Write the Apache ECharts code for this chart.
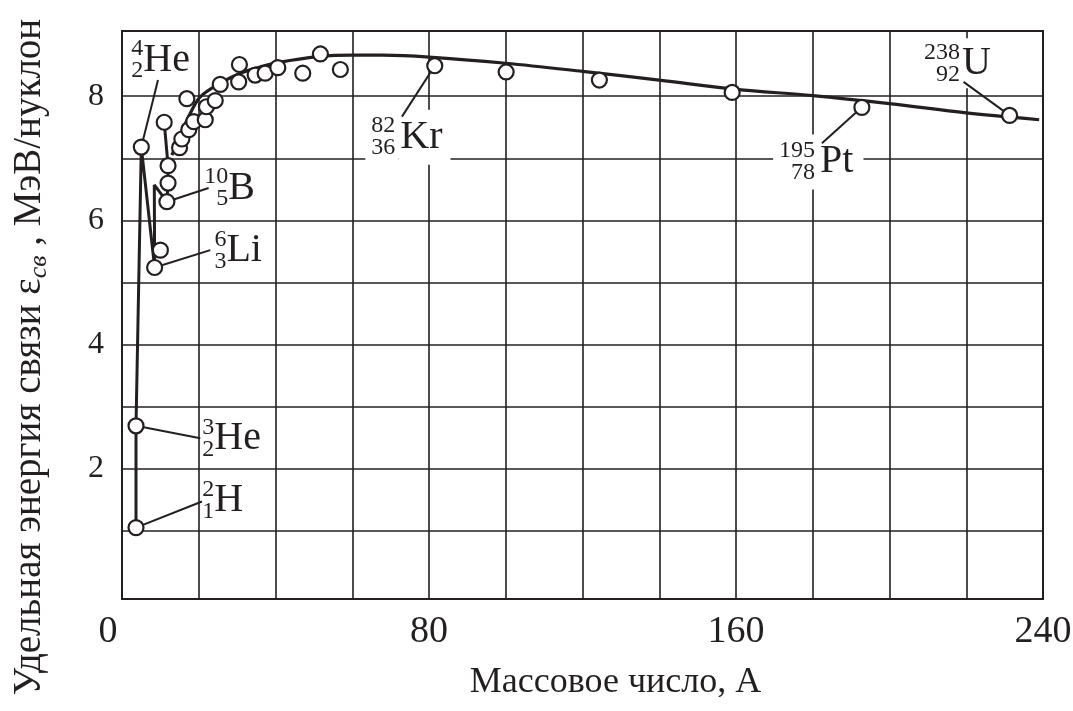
<!DOCTYPE html>
<html><head><meta charset="utf-8">
<script src="https://cdn.jsdelivr.net/npm/echarts@6/dist/echarts.min.js"></script>
<style>html,body{margin:0;padding:0;background:#fff}#c{width:1073px;height:711px}</style>
</head><body><div id="c"></div>
<script>
// ---- data ----
const xLabelValues = [0, 80, 160, 240];
const yLabelValues = [2, 4, 6, 8];
const yGridValues = [1, 2, 3, 4, 5, 6, 7, 8];

// measured nuclides (mass number A, MeV per nucleon)
const nuclideA = [3.65, 3.65, 5.03, 8.5, 10.0, 11.0, 12.0, 12.0, 11.7,
  15.0, 15.6, 17.4, 18.7, 21.7, 22.0, 24.3, 16.9, 25.6, 30.6, 30.4, 34.7, 37.3, 40.6,
  47.1, 51.7, 56.9, 81.5, 100.1, 124.4, 159.0, 192.8, 231.3];
const nuclideE = [1.05, 2.69, 7.18, 5.24, 5.52, 7.58, 6.88, 6.60, 6.30,
  7.17, 7.31, 7.46, 7.59, 7.62, 7.83, 7.93, 7.96, 8.19, 8.51, 8.23, 8.34, 8.37, 8.46,
  8.37, 8.68, 8.43, 8.49, 8.39, 8.26, 8.06, 7.82, 7.69];

// broken line through the light nuclei
const chainA = [3.65, 3.65, 5.03, 8.5, 8.42, 11.7, 12.0, 12.0, 11.0];
const chainE = [1.05, 2.69, 7.18, 5.24, 6.57, 6.30, 6.60, 6.88, 7.58];

// smooth binding-energy curve
const curveA = [13.0, 15.5, 18.0, 20.4, 25.6, 30.8, 36, 40.5, 51.6, 60, 68, 80, 100, 120, 140, 160, 180, 200, 220, 239];
const curveE = [7.05, 7.42, 7.75, 7.99, 8.21, 8.37, 8.47, 8.54, 8.64, 8.66, 8.66, 8.63, 8.53, 8.40, 8.26, 8.11, 8.01, 7.88, 7.73, 7.62];

// nuclide labels: mass number, charge, symbol, anchor (A, E)
const labelMass   = ['4', '10', '6', '3', '2', '82', '195', '238'];
const labelCharge = ['2', '5', '3', '2', '1', '36', '78', '92'];
const labelSymbol = ['He', 'B', 'Li', 'He', 'H', 'Kr', 'Pt', 'U'];
const labelAt = [[5.55, 8.58], [27.7, 6.52], [27.2, 5.51], [24.05, 2.49], [24.05, 1.48], [72.0, 7.34], [181.4, 6.94], [218.4, 8.53]];

// leader lines: from nuclide to label
const leaderFrom = [[5.03, 7.18], [11.7, 6.30], [8.5, 5.24], [3.65, 2.69], [3.65, 1.05], [81.5, 8.49], [192.8, 7.82], [231.3, 7.69]];
const leaderTo   = [[9.38, 8.26], [22.57, 6.52], [23.0, 5.52], [20.4, 2.49], [20.85, 1.47], [72.96, 7.67], [182.4, 7.24], [219.3, 8.23]];

// ---- styling ----
const INK = '#231f20';
const SERIF = '"Liberation Serif", "Times New Roman", serif';

// label boxes with white background (cut the grid)
const numPad = {5: [3, 3, 3, 6], 6: [3, 3, 8, 6]};
const symPad = {5: [5, 8, 10, 2], 6: [5, 10, 5, 2], 7: [8, 4, 2, 2]};

const labelData = [];
labelAt.forEach((p, i) => {
  const nb = numPad[i];
  labelData.push({
    value: p,
    label: {
      show: true, position: 'left', distance: 0,
      formatter: labelMass[i] + '\n' + labelCharge[i],
      fontFamily: SERIF, fontSize: 24, lineHeight: 22, color: INK, opacity: 1, align: 'right',
      backgroundColor: nb ? '#fff' : 'transparent', padding: nb || 0
    }
  });
  const sb = symPad[i];
  labelData.push({
    value: p,
    label: {
      show: true, position: 'right', distance: 0,
      formatter: labelSymbol[i],
      fontFamily: SERIF, fontSize: 40, lineHeight: 40, color: INK, opacity: 1,
      backgroundColor: sb ? '#fff' : 'transparent', padding: sb || 0
    }
  });
});

const zip = (a, b) => a.map((v, i) => [v, b[i]]);

const chart = echarts.init(document.getElementById('c'), null, {renderer: 'canvas'});
chart.setOption({
  backgroundColor: '#fff',
  animation: false,
  grid: {left: 122, right: 30, top: 31, bottom: 112, show: true, borderColor: INK, borderWidth: 2,
         backgroundColor: 'transparent', containLabel: false, outerBoundsMode: 'none'},
  xAxis: {
    type: 'value', min: 0, max: 240, interval: 20,
    axisLine: {show: false}, axisTick: {show: false},
    splitLine: {show: true, lineStyle: {color: INK, width: 1.6}},
    axisLabel: {
      margin: 14, color: INK, fontFamily: SERIF, fontSize: 38,
      formatter: v => v === 0 ? '{z|0}' : (xLabelValues.indexOf(v) >= 0 ? String(v) : ''),
      rich: {z: {fontFamily: SERIF, fontSize: 38, color: INK, padding: [0, 28, 0, 0]}}
    },
    name: 'Массовое число, А', nameLocation: 'middle', nameGap: 66,
    nameTextStyle: {fontFamily: SERIF, fontSize: 36, color: INK, padding: [0, 0, 0, 66]}
  },
  yAxis: {
    type: 'value', min: -0.1, max: 9.05,
    axisLine: {show: false},
    axisTick: {show: false, customValues: yGridValues},
    splitLine: {show: true, lineStyle: {color: INK, width: 1.6}},
    axisLabel: {customValues: yLabelValues, margin: 18, color: INK, fontFamily: SERIF, fontSize: 32},
    name: '{a|Удельная энергия связи ε}{s|св}{a| , МэВ/нуклон}',
    nameLocation: 'middle', nameGap: 70,
    nameTextStyle: {
      color: INK, padding: [0, 84, 0, 0],
      rich: {
        a: {fontFamily: SERIF, fontSize: 39, lineHeight: 44, color: INK},
        s: {fontFamily: SERIF, fontSize: 26, fontStyle: 'italic', lineHeight: 26, color: INK, verticalAlign: 'bottom'}
      }
    }
  },
  series: [
    {type: 'line', data: zip(curveA, curveE), smooth: 0.35, symbol: 'none', z: 3,
     lineStyle: {color: INK, width: 3.2}},
    {type: 'line', data: zip(chainA, chainE), smooth: false, symbol: 'none', z: 3,
     lineStyle: {color: INK, width: 3}},
    {type: 'scatter', data: labelData, symbolSize: 0, z: 4, silent: true,
     itemStyle: {opacity: 1}, emphasis: {disabled: true}},
    {type: 'lines', coordinateSystem: 'cartesian2d', z: 6, silent: true,
     data: leaderFrom.map((p, i) => ({coords: [p, leaderTo[i]]})),
     lineStyle: {color: INK, width: 2, opacity: 1}},
    {type: 'scatter', data: zip(nuclideA, nuclideE), symbol: 'circle', symbolSize: 15, z: 8,
     itemStyle: {color: '#fff', borderColor: INK, borderWidth: 2.2, opacity: 1}}
  ]
});
</script>
</body></html>
